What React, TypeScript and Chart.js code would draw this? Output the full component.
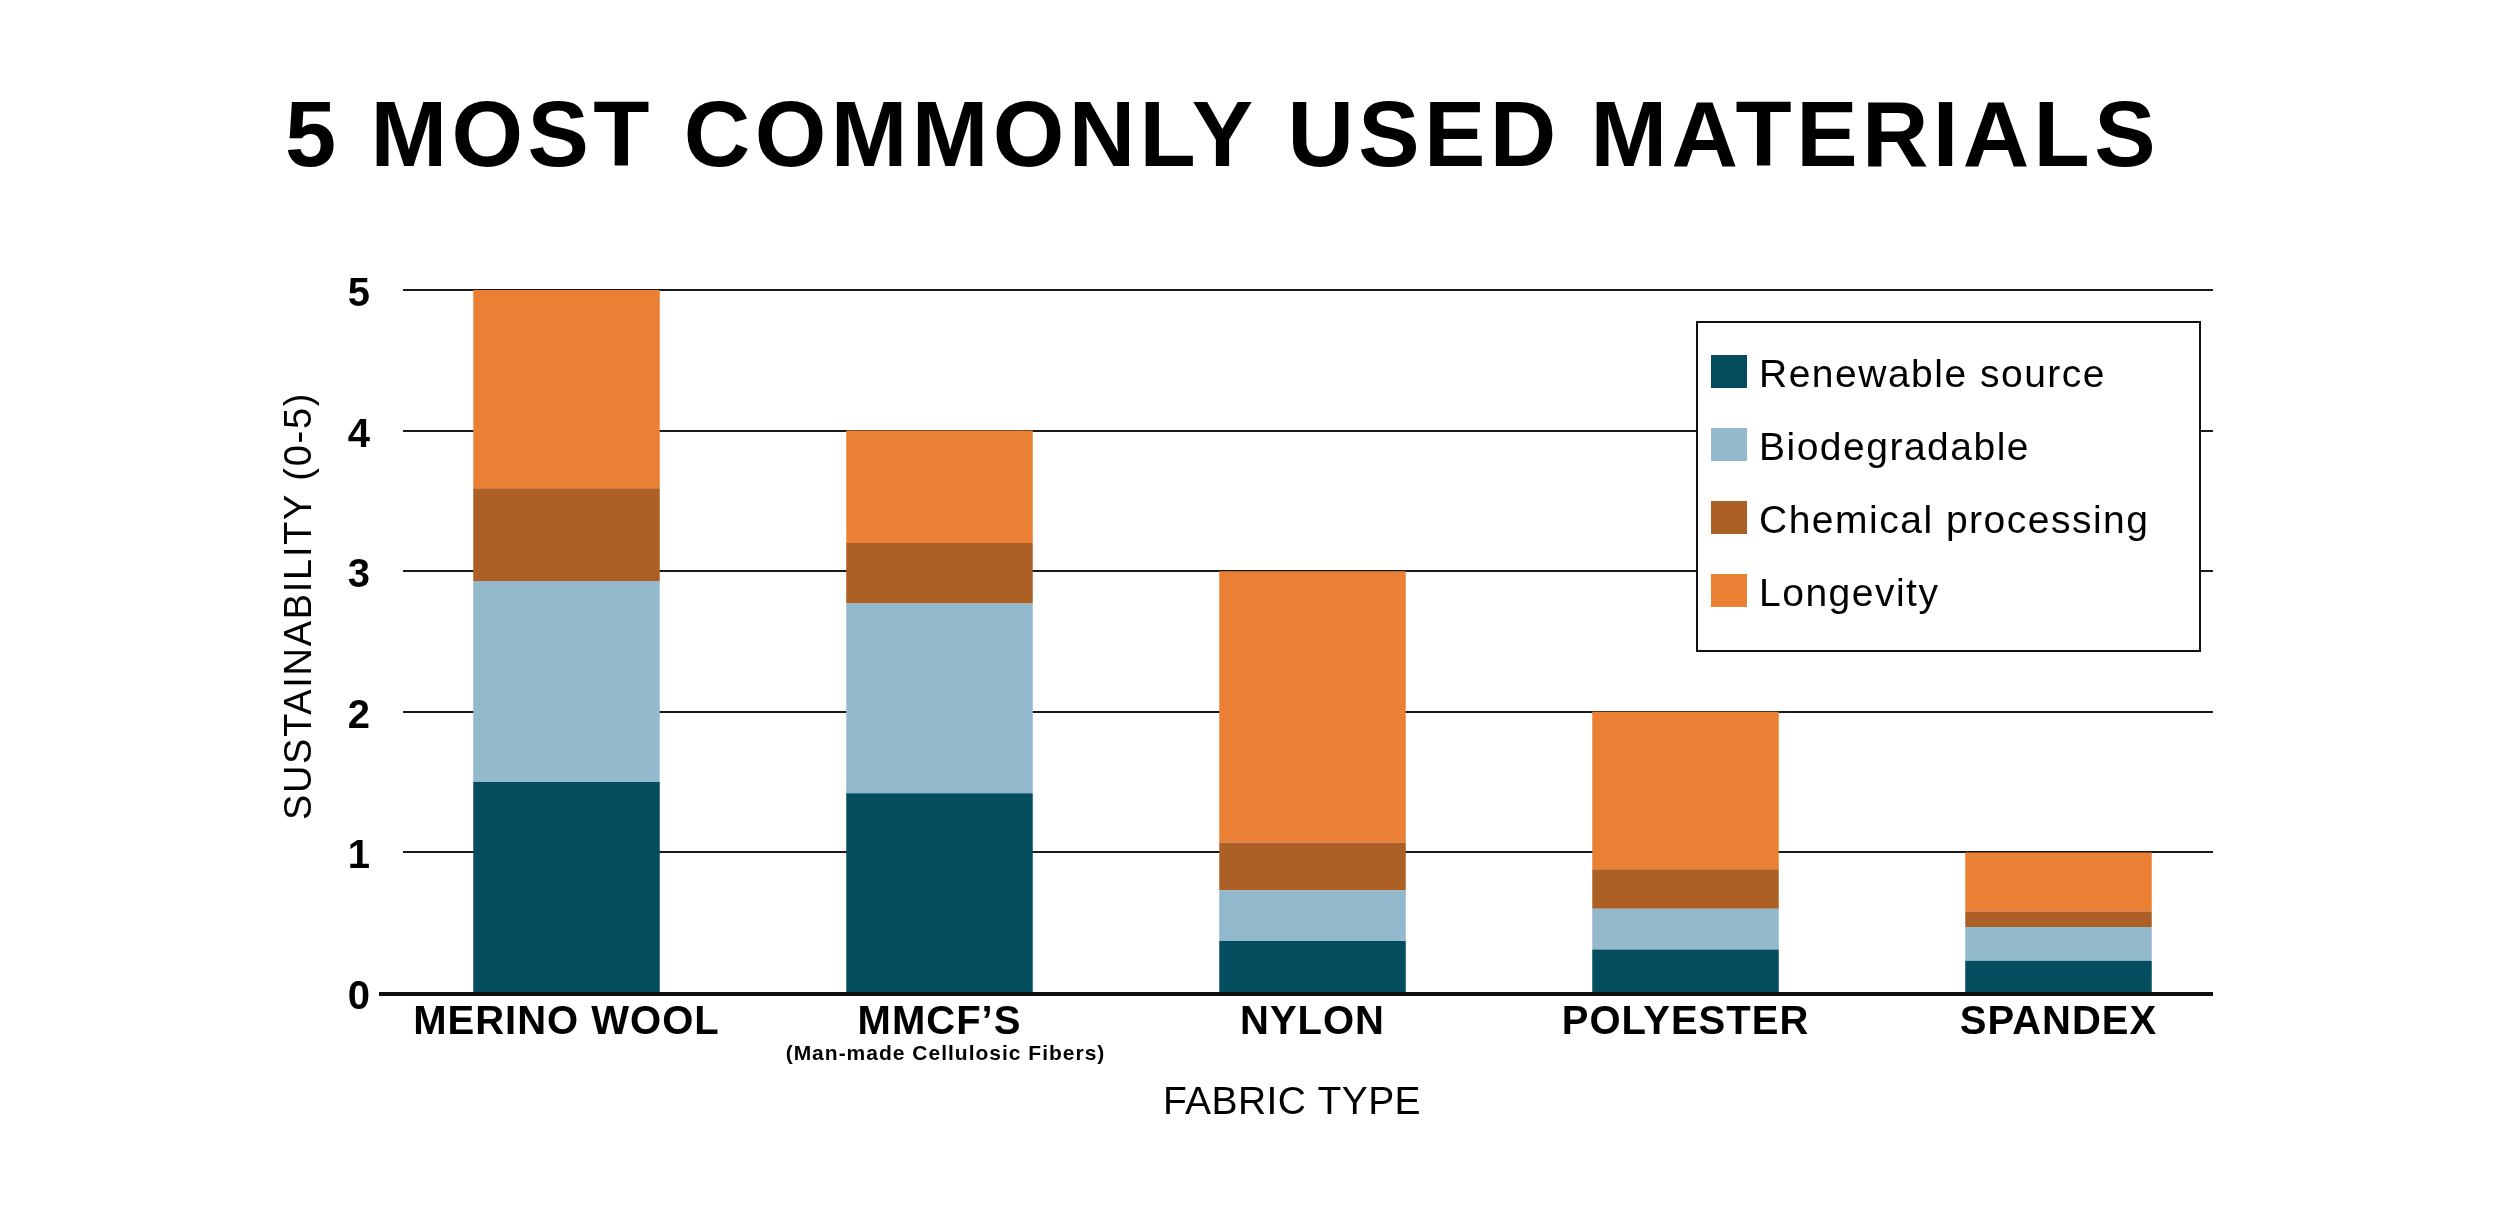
import React, { useEffect, useRef } from 'react';
import { Chart, registerables } from 'chart.js';

Chart.register(...registerables);

// ---- data ----
const categories = ['MERINO WOOL', 'MMCF’S', 'NYLON', 'POLYESTER', 'SPANDEX'];
const seriesLabels = ['Renewable source', 'Biodegradable', 'Chemical processing', 'Longevity'];
const renewable = [1.5, 1.42, 0.37, 0.31, 0.23];
const biodegradable = [1.43, 1.35, 0.36, 0.29, 0.24];
const chemical = [0.66, 0.43, 0.34, 0.28, 0.11];
const longevity = [1.41, 0.8, 1.93, 1.12, 0.42];
const yTicks = [0, 1, 2, 3, 4, 5];
const chartTitle = '5 MOST COMMONLY USED MATERIALS';
const xTitle = 'FABRIC TYPE';
const yTitle = 'SUSTAINABILITY (0-5)';
const subLabel = '(Man-made Cellulosic Fibers)';
const subLabelIndex = 1;

// ---- styles ----
const colors = ['#034d5f', '#93b9cd', '#ad6026', '#e98033'];
const FONT = "'Liberation Sans', Arial, Helvetica, sans-serif";
const W = 2500;
const H = 1206;

const decor = {
  id: 'decor',
  beforeDraw(chart: any) {
    chart.ctx.letterSpacing = '1px';
  },
  beforeDatasetsDraw(chart: any) {
    const { ctx, chartArea } = chart;
    const y = chart.scales.y;
    ctx.save();
    ctx.strokeStyle = '#1a1a1a';
    ctx.lineWidth = 2;
    y.ticks.forEach((t: any) => {
      if (t.value === 0) return;
      const py = Math.round(y.getPixelForValue(t.value));
      ctx.beginPath();
      ctx.moveTo(chartArea.left + 23, py);
      ctx.lineTo(chartArea.right - 32, py);
      ctx.stroke();
    });
    ctx.restore();
  },
  afterDatasetsDraw(chart: any) {
    const { ctx, chartArea } = chart;
    const y = chart.scales.y;
    const x = chart.scales.x;
    ctx.save();
    // baseline
    const y0 = y.getPixelForValue(0);
    ctx.strokeStyle = '#111';
    ctx.lineWidth = 4;
    ctx.beginPath();
    ctx.moveTo(chartArea.left - 1, y0 + 1);
    ctx.lineTo(chartArea.right - 32, y0 + 1);
    ctx.stroke();

    // legend
    const lx = 1697, ly = 322, lw = 503, lh = 329;
    ctx.fillStyle = '#fff';
    ctx.fillRect(lx, ly, lw, lh);
    ctx.strokeStyle = '#111';
    ctx.lineWidth = 2;
    ctx.strokeRect(lx, ly, lw, lh);
    ctx.font = `39px ${FONT}`;
    ctx.letterSpacing = '1.5px';
    ctx.textAlign = 'left';
    ctx.textBaseline = 'alphabetic';
    chart.data.datasets.forEach((ds: any, i: number) => {
      const base = 386.5 + i * 73;
      ctx.fillStyle = ds.backgroundColor;
      ctx.fillRect(lx + 14, base - 31.5, 36, 33);
      ctx.fillStyle = '#000';
      ctx.fillText(ds.label, lx + 62, base);
    });

    // title
    ctx.fillStyle = '#000';
    ctx.font = `bold 92px ${FONT}`;
    ctx.letterSpacing = '4.4px';
    ctx.textAlign = 'left';
    ctx.fillText(chartTitle, 285, 166);

    // x sub label
    ctx.font = `bold 21px ${FONT}`;
    ctx.letterSpacing = '1px';
    ctx.textAlign = 'center';
    ctx.fillText(subLabel, x.getPixelForValue(subLabelIndex) + 6, 1060);

    // x axis title
    ctx.font = `39px ${FONT}`;
    ctx.letterSpacing = '0.4px';
    ctx.fillText(xTitle, 1292, 1114);

    // y axis title
    ctx.font = `38px ${FONT}`;
    ctx.letterSpacing = '1.7px';
    ctx.translate(301, 606);
    ctx.rotate(-Math.PI / 2);
    ctx.textBaseline = 'middle';
    ctx.textAlign = 'center';
    ctx.fillText(yTitle, 0, 0);
    ctx.restore();
  },
};

export default function App() {
  const ref = useRef<HTMLCanvasElement | null>(null);

  useEffect(() => {
    if (!ref.current) return;
    Chart.defaults.color = '#000';
    const series = [renewable, biodegradable, chemical, longevity];
    const chart = new Chart(ref.current, {
      type: 'bar',
      data: {
        labels: categories,
        datasets: series.map((d, i) => ({
          label: seriesLabels[i],
          data: d,
          backgroundColor: colors[i],
          borderWidth: 0,
          categoryPercentage: 1,
          barPercentage: 0.5,
        })),
      },
      options: {
        responsive: false,
        animation: false,
        layout: { padding: { top: 290, left: 0, right: 255, bottom: 0 } },
        plugins: {
          legend: { display: false },
          title: { display: false },
          tooltip: { enabled: false },
        },
        scales: {
          x: {
            stacked: true,
            grid: { display: false, drawTicks: false },
            border: { display: false },
            ticks: {
              padding: 6,
              color: '#000',
              font: { family: FONT, size: 40, weight: 'bold' },
            },
            afterFit: (s: any) => {
              s.height = 213;
            },
          },
          y: {
            stacked: true,
            min: 0,
            max: 5,
            grid: { display: false, drawTicks: false },
            border: { display: false },
            afterBuildTicks: (s: any) => {
              s.ticks = yTicks.map((v) => ({ value: v }));
            },
            ticks: {
              padding: 9,
              labelOffset: 5,
              color: '#000',
              font: { family: FONT, size: 40, weight: 'bold' },
            },
            afterFit: (s: any) => {
              s.width = 380;
            },
          },
        },
      },
      plugins: [decor],
    });
    return () => chart.destroy();
  }, []);

  return (
    <div style={{ position: 'absolute', left: 0, top: 0, width: W, height: H, background: '#fff' }}>
      <canvas ref={ref} width={W} height={H} style={{ display: 'block', width: W, height: H }} />
    </div>
  );
}
